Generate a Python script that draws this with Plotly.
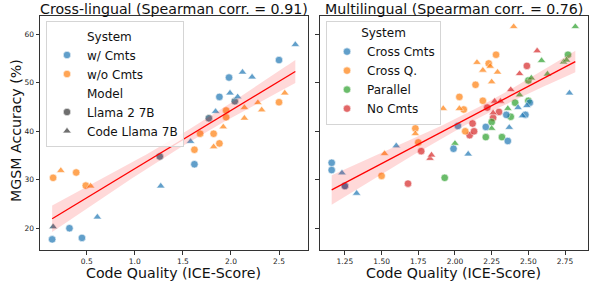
import numpy as np
import plotly.graph_objects as go

# ---------------- data: Cross-lingual panel ----------------
cl_wc_llama_x = [0.14, 0.32, 0.45, 1.26, 1.62, 1.77, 1.88, 1.98, 2.04, 2.50]
cl_wc_llama_y = [17.7, 20.0, 18.0, 34.8, 33.2, 42.7, 47.1, 51.1, 46.2, 54.7]
cl_wc_code_x = [0.15, 0.61, 1.27, 1.58, 1.84, 1.99, 2.07, 2.12, 2.22, 2.67]
cl_wc_code_y = [20.3, 22.3, 28.7, 37.9, 44.1, 47.9, 47.1, 52.2, 51.2, 57.9]
cl_wo_llama_x = [0.15, 0.39, 0.49, 1.26, 1.62, 1.68, 1.77, 1.82, 1.88, 1.95, 1.95, 2.04, 2.50]
cl_wo_llama_y = [30.4, 31.5, 28.8, 34.8, 36.2, 39.5, 42.7, 39.5, 37.5, 44.3, 42.9, 46.2, 46.0]
cl_wo_code_x = [0.15, 0.23, 0.54, 1.10, 1.82, 1.92, 2.14, 2.14, 2.28, 2.32, 2.56]
cl_wo_code_y = [20.3, 31.9, 28.7, 39.3, 36.8, 40.9, 44.9, 42.7, 45.9, 44.4, 47.9]

# ---------------- data: Multilingual panel ----------------
ml_cc_llama_x = [1.16, 1.16, 1.25, 1.99, 2.02, 2.21, 2.35, 2.36, 2.48, 2.51]
ml_cc_llama_y = [33.5, 32.0, 28.7, 36.4, 41.1, 40.9, 43.4, 38.0, 43.4, 45.9]
ml_cc_code_x = [1.23, 1.33, 1.60, 2.09, 2.37, 2.43, 2.46, 2.49, 2.78]
ml_cc_code_y = [31.4, 27.2, 37.0, 35.3, 40.8, 44.9, 43.2, 45.3, 47.9]
ml_cq_llama_x = [1.50, 1.73, 1.75, 2.03, 2.06, 2.07, 2.14, 2.19, 2.23, 2.28]
ml_cq_llama_y = [30.8, 40.6, 37.7, 47.1, 44.5, 40.0, 49.6, 46.3, 54.0, 55.8]
ml_cq_code_x = [1.52, 1.73, 1.92, 2.03, 2.15, 2.19, 2.24, 2.25, 2.29, 2.40]
ml_cq_code_y = [35.4, 39.5, 44.7, 44.7, 54.2, 52.6, 53.4, 50.2, 52.2, 61.6]
ml_pa_llama_x = [1.93, 2.21, 2.25, 2.32, 2.38, 2.41, 2.50, 2.50, 2.77]
ml_pa_llama_y = [30.4, 38.8, 41.9, 38.8, 43.0, 45.9, 46.3, 50.5, 55.8]
ml_pa_code_x = [2.00, 2.25, 2.36, 2.44, 2.52, 2.59, 2.63, 2.74, 2.76, 2.82]
ml_pa_code_y = [37.5, 40.6, 44.7, 47.5, 51.0, 54.6, 51.8, 54.3, 54.7, 61.6]
ml_nc_llama_x = [1.25, 1.68, 1.77, 2.10, 2.13, 2.12, 2.22, 2.26, 2.30, 2.49]
ml_nc_llama_y = [28.7, 29.2, 35.9, 39.2, 40.0, 41.6, 44.9, 42.8, 44.0, 53.5]
ml_nc_code_x = [1.83, 1.84, 2.26, 2.27, 2.31, 2.38, 2.44, 2.56]
ml_nc_code_y = [34.4, 35.1, 43.8, 46.2, 46.2, 48.6, 51.9, 56.6]

left_xticks = [0.5, 1.0, 1.5, 2.0, 2.5]
left_xtick_text = ["0.5", "1.0", "1.5", "2.0", "2.5"]
right_xticks = [1.25, 1.50, 1.75, 2.00, 2.25, 2.50, 2.75]
right_xtick_text = ["1.25", "1.50", "1.75", "2.00", "2.25", "2.50", "2.75"]
yticks = [20, 30, 40, 50, 60]
ytick_text = ["20", "30", "40", "50", "60"]

titles = ["Cross-lingual (Spearman corr. = 0.91)", "Multilingual (Spearman corr. = 0.76)"]
xlabel = "Code Quality (ICE-Score)"
ylabel = "MGSM Accuracy (%)"

BLUE = "#1f77b4"
ORANGE = "#ff7f0e"
GREEN = "#2ca02c"
RED = "#d62728"
FONT = "DejaVu Sans"

W, H = 598, 289
# plot-area pixel boxes
L1, R1 = 40.0, 307.5
L2, R2 = 319.5, 587.5
TOP, BOT = 16.0, 250.0

fig = go.Figure()


def scatter(x, y, color, symbol, xa, ya):
    fig.add_trace(go.Scatter(
        x=x, y=y, mode="markers", xaxis=xa, yaxis=ya, showlegend=False,
        hoverinfo="skip",
        marker=dict(color=color, symbol=symbol, size=7.5,
                    opacity=0.7, line=dict(color="white", width=0.6))))


def regline(xs, ys, xa, ya):
    x = np.array(xs, dtype=float)
    y = np.array(ys, dtype=float)
    n = len(x)
    b1, b0 = np.polyfit(x, y, 1)
    grid = np.linspace(x.min(), x.max(), 100)
    pred = b0 + b1 * grid
    resid = y - (b0 + b1 * x)
    s = np.sqrt(np.sum(resid ** 2) / (n - 2))
    sxx = np.sum((x - x.mean()) ** 2)
    se = s * np.sqrt(1.0 / n + (grid - x.mean()) ** 2 / sxx)
    t = 1.96 + 2.4 / (n - 2)
    fig.add_trace(go.Scatter(x=grid, y=pred + t * se, mode="lines", line=dict(width=0),
                             xaxis=xa, yaxis=ya, showlegend=False, hoverinfo="skip"))
    fig.add_trace(go.Scatter(x=grid, y=pred - t * se, mode="lines", line=dict(width=0),
                             fill="tonexty", fillcolor="rgba(255,0,0,0.15)",
                             xaxis=xa, yaxis=ya, showlegend=False, hoverinfo="skip"))
    fig.add_trace(go.Scatter(x=grid, y=pred, mode="lines", line=dict(color="#ff0000", width=1.3),
                             xaxis=xa, yaxis=ya, showlegend=False, hoverinfo="skip"))


# left panel points
scatter(cl_wo_llama_x, cl_wo_llama_y, ORANGE, "circle", "x", "y")
scatter(cl_wo_code_x, cl_wo_code_y, ORANGE, "triangle-up", "x", "y")
scatter(cl_wc_llama_x, cl_wc_llama_y, BLUE, "circle", "x", "y")
scatter(cl_wc_code_x, cl_wc_code_y, BLUE, "triangle-up", "x", "y")
left_x = cl_wc_llama_x + cl_wc_code_x + cl_wo_llama_x + cl_wo_code_x
left_y = cl_wc_llama_y + cl_wc_code_y + cl_wo_llama_y + cl_wo_code_y
regline(left_x, left_y, "x", "y")

# right panel points
scatter(ml_nc_llama_x, ml_nc_llama_y, RED, "circle", "x2", "y2")
scatter(ml_nc_code_x, ml_nc_code_y, RED, "triangle-up", "x2", "y2")
scatter(ml_pa_llama_x, ml_pa_llama_y, GREEN, "circle", "x2", "y2")
scatter(ml_pa_code_x, ml_pa_code_y, GREEN, "triangle-up", "x2", "y2")
scatter(ml_cq_llama_x, ml_cq_llama_y, ORANGE, "circle", "x2", "y2")
scatter(ml_cq_code_x, ml_cq_code_y, ORANGE, "triangle-up", "x2", "y2")
scatter(ml_cc_llama_x, ml_cc_llama_y, BLUE, "circle", "x2", "y2")
scatter(ml_cc_code_x, ml_cc_code_y, BLUE, "triangle-up", "x2", "y2")
right_x = (ml_cc_llama_x + ml_cc_code_x + ml_cq_llama_x + ml_cq_code_x +
           ml_pa_llama_x + ml_pa_code_x + ml_nc_llama_x + ml_nc_code_x)
right_y = (ml_cc_llama_y + ml_cc_code_y + ml_cq_llama_y + ml_cq_code_y +
           ml_pa_llama_y + ml_pa_code_y + ml_nc_llama_y + ml_nc_code_y)
regline(right_x, right_y, "x2", "y2")


# legend entries (legend-only traces)
def legend_entry(name, color, symbol, legend, visible_marker=True):
    fig.add_trace(go.Scatter(
        x=[None], y=[None], mode="markers", name=name, legend=legend,
        xaxis="x", yaxis="y",
        marker=dict(color=color, symbol=symbol, size=7.5,
                    opacity=0.7 if visible_marker else 0,
                    line=dict(color="white", width=0.6))))


legend_entry("System", "white", "circle", "legend", False)
legend_entry("w/ Cmts", BLUE, "circle", "legend")
legend_entry("w/o Cmts", ORANGE, "circle", "legend")
legend_entry("Model", "white", "circle", "legend", False)
legend_entry("Llama 2 7B", "#333333", "circle", "legend")
legend_entry("Code Llama 7B", "#333333", "triangle-up", "legend")

legend_entry("Cross Cmts", BLUE, "circle", "legend2")
legend_entry("Cross Q.", ORANGE, "circle", "legend2")
legend_entry("Parallel", GREEN, "circle", "legend2")
legend_entry("No Cmts", RED, "circle", "legend2")


def padded(vals, frac=0.05):
    lo, hi = min(vals), max(vals)
    d = (hi - lo) * frac
    return [lo - d, hi + d]


yr = padded(left_y + right_y)

axis_common = dict(showgrid=False, zeroline=False, showline=True, mirror=True,
                   linecolor="#333333", linewidth=1, ticks="outside", ticklen=3.5,
                   tickwidth=0.8, tickcolor="#333333",
                   tickfont=dict(family=FONT, size=7.5, color="#222222"))

fig.update_layout(
    width=W, height=H, autosize=False,
    margin=dict(l=0, r=0, t=0, b=0),
    paper_bgcolor="white", plot_bgcolor="white",
    font=dict(family=FONT, color="#111111"),
    xaxis=dict(domain=[L1 / W, R1 / W], range=padded(left_x), tickvals=left_xticks,
               ticktext=left_xtick_text, anchor="y", **axis_common),
    yaxis=dict(domain=[1 - BOT / H, 1 - TOP / H], range=yr, tickvals=yticks,
               ticktext=ytick_text, anchor="x", **axis_common),
    xaxis2=dict(domain=[L2 / W, R2 / W], range=padded(right_x), tickvals=right_xticks,
                ticktext=right_xtick_text, anchor="y2", **axis_common),
    yaxis2=dict(domain=[1 - BOT / H, 1 - TOP / H], range=yr, tickvals=yticks,
                showticklabels=False, anchor="x2", **axis_common),
    legend=dict(x=46 / W, y=1 - 20.5 / H, xanchor="left", yanchor="top",
                bgcolor="rgba(255,255,255,0.8)", bordercolor="#d5d5d5", borderwidth=1,
                font=dict(family=FONT, size=12, color="#111111"),
                itemsizing="trace", tracegroupgap=0, traceorder="normal"),
    legend2=dict(x=326 / W, y=1 - 20.5 / H, xanchor="left", yanchor="top",
                 bgcolor="rgba(255,255,255,0.8)", bordercolor="#d5d5d5", borderwidth=1,
                 font=dict(family=FONT, size=12, color="#111111"),
                 title=dict(text="System", side="top center",
                            font=dict(family=FONT, size=12, color="#111111")),
                 itemsizing="trace", tracegroupgap=0, traceorder="normal"),
)

annots = [
    dict(text=titles[0], x=(L1 + R1) / 2 / W, y=1 - 8.5 / H),
    dict(text=titles[1], x=(L2 + R2) / 2 / W, y=1 - 8.5 / H),
    dict(text=xlabel, x=(L1 + R1) / 2 / W, y=1 - 273 / H),
    dict(text=xlabel, x=(L2 + R2) / 2 / W, y=1 - 273 / H),
]
for a in annots:
    fig.add_annotation(xref="paper", yref="paper", showarrow=False,
                       xanchor="center", yanchor="middle",
                       font=dict(family=FONT, size=14.2, color="#111111"), **a)
fig.add_annotation(text=ylabel, xref="paper", yref="paper", x=16 / W, y=1 - 131 / H,
                   textangle=-90, showarrow=False, xanchor="center", yanchor="middle",
                   font=dict(family=FONT, size=14.2, color="#111111"))

fig.write_html("out.html", config={"displayModeBar": False},
               post_script="document.body.style.margin='0px';document.body.style.overflow='hidden';")
